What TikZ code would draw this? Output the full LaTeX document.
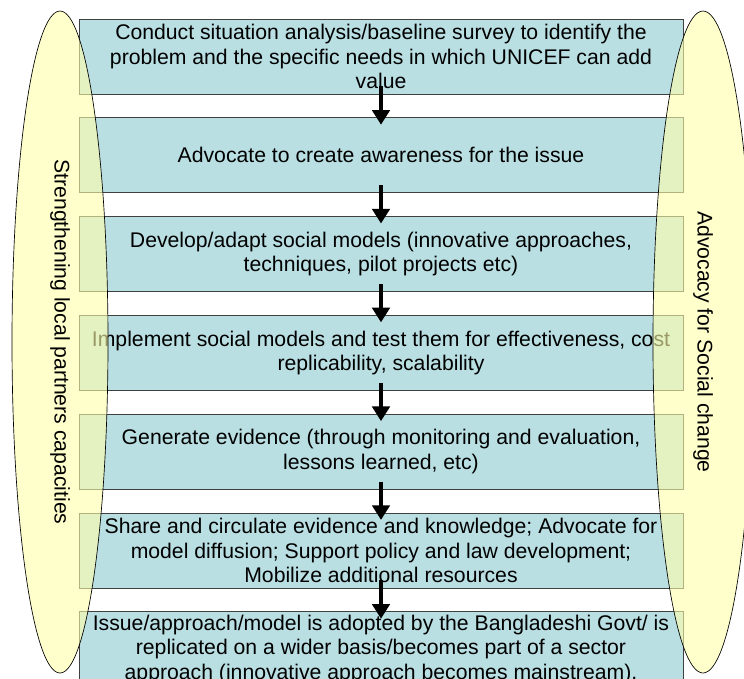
\documentclass[tikz,border=0pt]{standalone}
\usepackage{fontspec}
\setmainfont{Liberation Sans}
\usetikzlibrary{positioning,shapes.geometric,arrows.meta}

\definecolor{stagefill}{RGB}{185,223,227}
\definecolor{bandfill}{RGB}{255,255,170}

\tikzset{
  stage/.style={draw=black!75, line width=0.6pt, fill=stagefill,
    minimum width=453pt, minimum height=56.25pt, inner xsep=0pt, inner ysep=0pt,
    align=center, font=\fontsize{15.9pt}{18.4pt}\selectfont},
  band/.style={ellipse, draw=black, line width=0.5pt, fill=bandfill,
    fill opacity=0.6, text opacity=1, inner sep=0pt, rotate=-90,
    font=\fontsize{15.9pt}{18.4pt}\selectfont},
  flow/.style={line width=3.2pt, -{Triangle[length=11pt,width=13pt]}}
}

\begin{document}
\begin{tikzpicture}[node distance=17.25pt]
\useasboundingbox (0,0) rectangle (558pt,-509.25pt);

\node[stage] (s1) at (285.75pt,-42.375pt) {Conduct situation analysis/baseline survey to identify the\\problem and the specific needs in which UNICEF can add\\value};
\node[stage, below=of s1] (s2) {Advocate to create awareness for the issue};
\node[stage, below=of s2] (s3) {Develop/adapt social models (innovative approaches,\\techniques, pilot projects etc)};
\node[stage, below=of s3] (s4) {Implement social models and test them for effectiveness, cost\\replicability, scalability};
\node[stage, below=of s4] (s5) {Generate evidence (through monitoring and evaluation,\\lessons learned, etc)};
\node[stage, below=of s5] (s6) {Share and circulate evidence and knowledge; Advocate for\\model diffusion; Support policy and law development;\\Mobilize additional resources};
\node[stage, below=of s6] (s7) {Issue/approach/model is adopted by the Bangladeshi Govt/ is\\replicated on a wider basis/becomes part of a sector\\approach (innovative approach becomes mainstream).};

\foreach \a/\b in {s1/s2,s2/s3,s3/s4,s4/s5,s5/s6,s6/s7}
    \draw [flow] ([yshift=6pt]\a.south) -- ([yshift=-5.5pt]\b.north);

\node[band, minimum width=496.5pt, minimum height=72pt] (partners) at (45pt,-256.5pt) {Strengthening local partners capacities};
\node[band, minimum width=496.5pt, minimum height=75pt] (advocacy) at (527.25pt,-256.5pt) {Advocacy for Social change};

\end{tikzpicture}
\end{document}
